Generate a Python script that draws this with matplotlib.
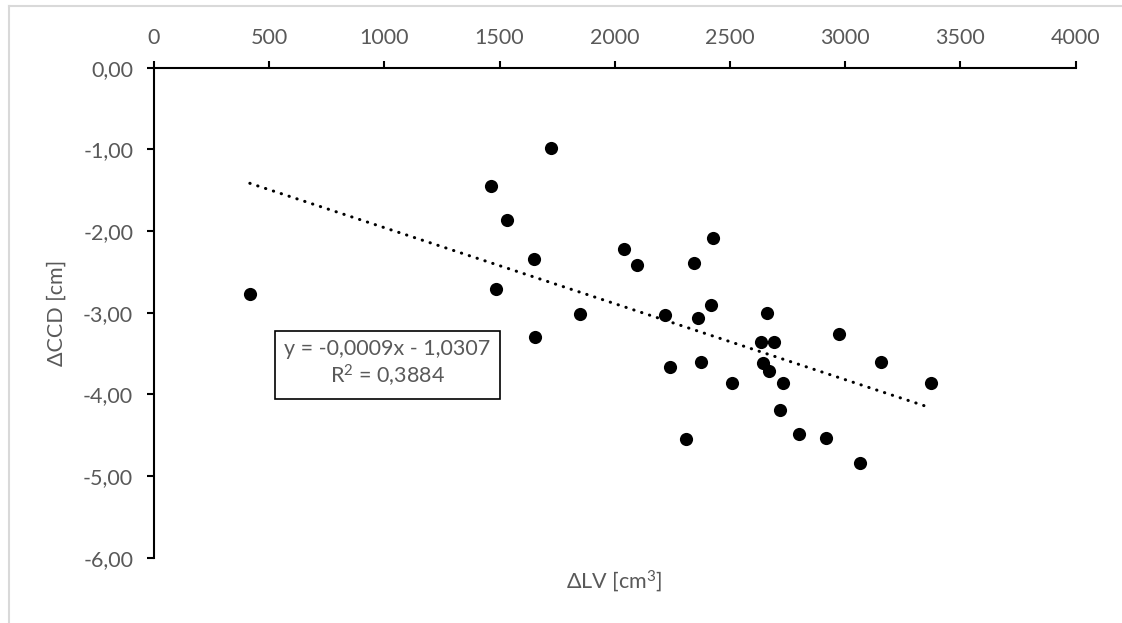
import numpy as np
import matplotlib
matplotlib.use("Agg")
import matplotlib.pyplot as plt
from matplotlib.lines import Line2D
from matplotlib.ticker import FuncFormatter

# ---- data ----
delta_lv = [416, 1463, 1484, 1532, 1651, 1654, 1723, 1848, 2041, 2095,
            2219, 2238, 2310, 2342, 2362, 2376, 2416, 2428, 2510, 2637,
            2642, 2662, 2669, 2691, 2718, 2730, 2798, 2915, 2972, 3064,
            3155, 3372]
delta_ccd = [-2.77, -1.45, -2.71, -1.86, -2.34, -3.30, -0.98, -3.01, -2.22, -2.41,
             -3.03, -3.66, -4.55, -2.39, -3.06, -3.60, -2.90, -2.09, -3.86, -3.36,
             -3.62, -3.00, -3.71, -3.36, -4.19, -3.86, -4.49, -4.54, -3.26, -4.84,
             -3.60, -3.86]
x_ticks = [0, 500, 1000, 1500, 2000, 2500, 3000, 3500, 4000]
y_ticks = [0, -1, -2, -3, -4, -5, -6]
equation_text = "y = -0,0009x - 1,0307\nR$\\mathregular{^2}$ = 0,3884"
x_label = "ΔLV [cm$\\mathregular{^3}$]"
y_label = "ΔCCD [cm]"

plt.rcParams['font.family'] = ['Lato', 'DejaVu Sans']
plt.rcParams['mathtext.fontset'] = 'custom'
plt.rcParams['mathtext.rm'] = 'Lato'
plt.rcParams['mathtext.it'] = 'Lato:italic'
plt.rcParams['mathtext.bf'] = 'Lato:bold'
text_color = "#595959"
FS = 15.5

fig = plt.figure(figsize=(11.22, 6.23), dpi=100)
W, H = 1122, 623
ax = fig.add_axes([154 / W, 1 - 557.7 / H, (1075.5 - 154) / W, (557.7 - 67.7) / H])

x = np.array(delta_lv, dtype=float)
y = np.array(delta_ccd, dtype=float)
ax.scatter(x, y, s=90, color="black", zorder=3, linewidths=0)

slope, intercept = np.polyfit(x, y, 1)
xt = np.array([x.min(), x.max()])
ax.plot(xt, slope * xt + intercept, color="black", lw=2.2,
        linestyle=(0, (0.1, 2.6)), dash_capstyle="round", zorder=2)

ax.set_xlim(0, 4000)
ax.set_ylim(-6, 0)
ax.set_xticks(x_ticks)
ax.set_yticks(y_ticks)
ax.xaxis.tick_top()
ax.yaxis.set_major_formatter(FuncFormatter(lambda v, p: f"{v:.2f}".replace(".", ",").replace("-0,00", "0,00")))
for s in ["right", "bottom"]:
    ax.spines[s].set_visible(False)
for s in ["top", "left"]:
    ax.spines[s].set_linewidth(1.5)
    ax.spines[s].set_color("black")
ax.tick_params(axis="both", length=5, width=1.5, color="black",
               labelsize=FS, labelcolor=text_color)
ax.tick_params(axis="x", pad=9)
ax.tick_params(axis="y", pad=10)

fig.text(614 / W, 1 - 581 / H, x_label, ha="center", va="center",
         fontsize=FS, color=text_color)
fig.text(57 / W, 1 - 312.7 / H, y_label, ha="center", va="center",
         rotation=90, fontsize=FS, color=text_color)

fig.text(387.5 / W, 1 - 364.3 / H, equation_text, ha="center", va="center",
         fontsize=FS, color=text_color, linespacing=1.2,
         bbox=dict(boxstyle="square,pad=0.45", facecolor="white",
                   edgecolor="black", linewidth=1.2))

# light chart-area border (left and top visible in reference)
fig.add_artist(Line2D([9 / W, 9 / W], [0, 1 - 6 / H], color="#d9d9d9", lw=1.5,
                      transform=fig.transFigure))
fig.add_artist(Line2D([9 / W, 1], [1 - 6 / H, 1 - 6 / H], color="#d9d9d9", lw=1.5,
                      transform=fig.transFigure))

fig.savefig("out.png", dpi=100, facecolor="white")
